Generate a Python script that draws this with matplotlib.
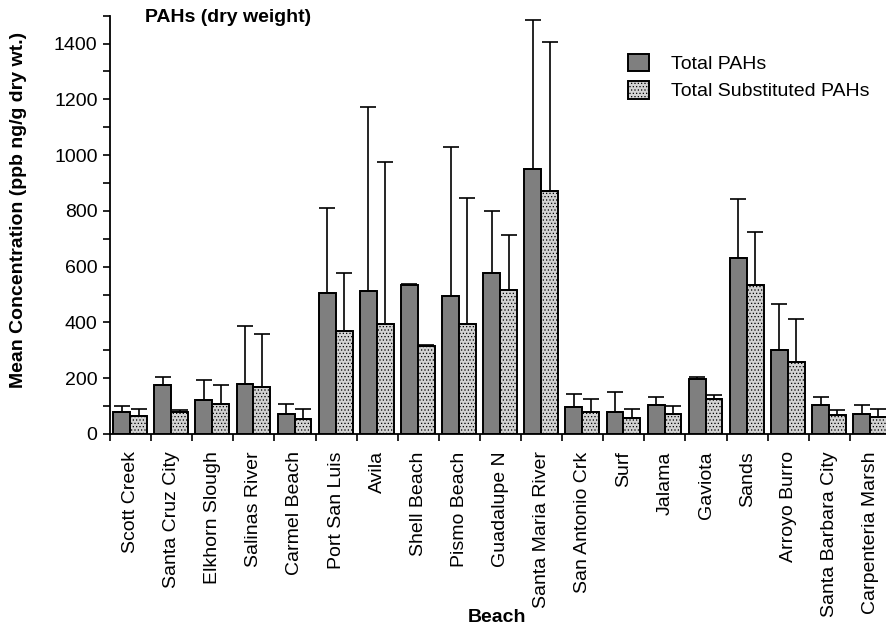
import numpy as np
import matplotlib
matplotlib.use("Agg")
import matplotlib.pyplot as plt
from matplotlib.ticker import FixedLocator

plt.rcParams['font.family'] = ['Liberation Sans', 'DejaVu Sans']
plt.rcParams['hatch.color'] = '#9a9a9a'
plt.rcParams['hatch.linewidth'] = 0.5

beaches = ["Scott Creek", "Santa Cruz City", "Elkhorn Slough", "Salinas River",
           "Carmel Beach", "Port San Luis", "Avila", "Shell Beach", "Pismo Beach",
           "Guadalupe N", "Santa Maria River", "San Antonio Crk", "Surf", "Jalama",
           "Gaviota", "Sands", "Arroyo Burro", "Santa Barbara City", "Carpenteria Marsh"]

total_pahs = [78, 174, 122, 179, 73, 506, 512, 536, 495, 578, 951, 97, 79, 103, 198, 632, 300, 103, 73]
total_pahs_top = [102, 203, 194, 387, 109, 809, 1172, 537, 1028, 799, 1486, 144, 152, 132, 205, 844, 466, 134, 103]

subst_pahs = [66, 78, 109, 167, 55, 369, 393, 316, 393, 518, 870, 79, 57, 73, 127, 536, 259, 67, 61]
subst_pahs_top = [91, 85, 174, 358, 91, 578, 975, 318, 845, 714, 1404, 127, 91, 102, 140, 726, 411, 85, 91]

fig = plt.figure(figsize=(8.86, 6.26), dpi=100)
ax = fig.add_axes([110/886, 1 - 434/626, 781/886, (434 - 15.7)/626])

x = np.arange(len(beaches))
w = 0.41
err1 = np.array(total_pahs_top) - np.array(total_pahs)
err2 = np.array(subst_pahs_top) - np.array(subst_pahs)

ekw = dict(ecolor='black', elinewidth=1.2, capsize=5.5, capthick=1.2)
ax.bar(x - 0.215, total_pahs, w, color='#7f7f7f', edgecolor='black', linewidth=1.4,
       yerr=[np.zeros(len(x)), err1], error_kw=ekw, label='Total PAHs', zorder=2)
ax.bar(x + 0.195, subst_pahs, w, color='#d2d2d2', edgecolor='black', linewidth=1.4,
       hatch='.....', yerr=[np.zeros(len(x)), err2], error_kw=ekw,
       label='Total Substituted PAHs', zorder=2)

ax.set_xlim(-0.5, len(beaches) - 0.5)
ax.set_ylim(0, 1500)
ax.spines['top'].set_visible(False)
ax.spines['right'].set_visible(False)
ax.spines['left'].set_linewidth(1.3)
ax.spines['bottom'].set_linewidth(1.3)

ax.yaxis.set_major_locator(FixedLocator(np.arange(0, 1401, 200)))
ax.yaxis.set_minor_locator(FixedLocator(np.arange(100, 1501, 200)))
ax.tick_params(axis='y', which='both', direction='out', length=5, width=1.2, labelsize=14, pad=4)

ax.set_xticks(x)
ax.set_xticklabels(beaches, rotation=90, fontsize=14)
ax.xaxis.set_minor_locator(FixedLocator(np.arange(-0.5, len(beaches) + 0.5, 1)))
ax.tick_params(axis='x', which='major', length=0, pad=12.5)
ax.tick_params(axis='x', which='minor', direction='out', length=5, width=1.2)

fig.text(145/886, 1 - 18/626, "PAHs (dry weight)", fontsize=14, fontweight='bold',
         ha='left', va='center')
fig.text(19/886, 1 - 210/626, "Mean Concentration (ppb ng/g dry wt.)", fontsize=14,
         fontweight='bold', rotation=90, ha='center', va='center')
fig.text(497/886, 1 - 617/626, "Beach", fontsize=14, fontweight='bold',
         ha='center', va='center')

ax.legend(loc='upper left', bbox_to_anchor=(628/886, 1 - 54/626),
          bbox_transform=fig.transFigure, frameon=False, fontsize=14,
          handlelength=1.1, handleheight=1.0, handletextpad=1.1,
          labelspacing=0.4, borderpad=0, borderaxespad=0)

fig.savefig("out.png", dpi=100)
